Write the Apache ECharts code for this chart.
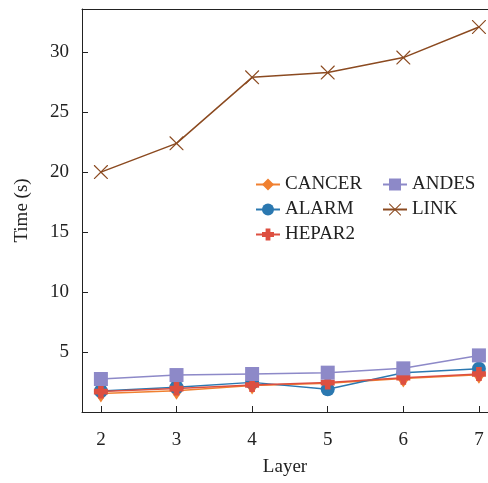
<!DOCTYPE html>
<html><head><meta charset="utf-8">
<script src="https://cdn.jsdelivr.net/npm/echarts@6/dist/echarts.min.js"></script>
<style>html,body{margin:0;padding:0;background:#fff}#c{width:488px;height:483px}</style>
</head><body><div id="c"></div>
<script>
const layers = [2, 3, 4, 5, 6, 7];
const cancer = [1.55, 1.78, 2.2, 2.4, 2.8, 3.1];
const alarm  = [1.75, 2.06, 2.47, 1.89, 3.28, 3.6];
const hepar2 = [1.7, 1.95, 2.25, 2.45, 2.86, 3.17];
const andes  = [2.75, 3.08, 3.17, 3.28, 3.64, 4.72];
const link   = [20.0, 22.4, 27.9, 28.3, 29.55, 32.1];
const yTicks = [5, 10, 15, 20, 25, 30];

const FONT = '"Liberation Serif", "Times New Roman", serif';
const FS = 19;
const pair = arr => layers.map((x, i) => [x, arr[i]]);
const plusPath = 'path://M3,0h4v3h3v4h-3v3h-4v-3h-3v-4h3z';
const xPath = 'path://M0,0L1.2,0L10,8.8L18.8,0L20,0L20,1.2L11.2,10L20,18.8L20,20L18.8,20L10,11.2L1.2,20L0,20L0,18.8L8.8,10L0,1.2Z';

function mk(name, data, color, symbol, size) {
  return {
    name, type: 'line', data: pair(data), symbol, symbolSize: size,
    itemStyle: { color }, lineStyle: { color, width: 1.5 },
    emphasis: { disabled: true }, animation: false
  };
}
const legendText = { fontFamily: FONT, fontSize: FS, color: '#222' };

const chart = echarts.init(document.getElementById('c'), null, { renderer: 'canvas' });
chart.setOption({
  backgroundColor: '#fff',
  animation: false,
  grid: { left: 82, top: 9, right: 0, bottom: 71, show: false },
  legend: [
    { data: ['CANCER', 'ALARM', 'HEPAR2'], orient: 'vertical', left: 250, top: 170, itemGap: 6, itemWidth: 24, itemHeight: 15,
      textStyle: legendText },
    { data: ['ANDES', 'LINK'], orient: 'vertical', left: 377, top: 170, itemGap: 6, itemWidth: 24, itemHeight: 15,
      textStyle: legendText }
  ],
  xAxis: [{
    type: 'value', min: 1.75, max: 7.12,
    name: 'Layer', nameLocation: 'middle', nameGap: 46,
    nameTextStyle: { fontFamily: FONT, fontSize: FS, color: '#222' },
    axisLine: { lineStyle: { color: '#222', width: 1 } },
    axisTick: { inside: true, length: 6, customValues: layers, lineStyle: { color: '#222' } },
    axisLabel: { customValues: layers, margin: 19, fontFamily: FONT, fontSize: FS, color: '#222' },
    splitLine: { show: false }
  }, {
    type: 'value', position: 'top', min: 1.75, max: 7.12,
    axisLine: { show: true, onZero: false, lineStyle: { color: '#222', width: 1 } },
    axisTick: { show: false }, axisLabel: { show: false }, splitLine: { show: false }
  }],
  yAxis: {
    type: 'value', min: 0, max: 33.6,
    name: 'Time (s)', nameLocation: 'middle', nameGap: 50, nameRotate: 90,
    nameTextStyle: { fontFamily: FONT, fontSize: FS, color: '#222' },
    axisLine: { show: true, lineStyle: { color: '#222', width: 1 } },
    axisTick: { show: true, inside: true, length: 6, customValues: yTicks, lineStyle: { color: '#222' } },
    axisLabel: { customValues: yTicks, margin: 13, fontFamily: FONT, fontSize: FS, color: '#222' },
    splitLine: { show: false }
  },
  series: [
    mk('CANCER', cancer, '#F08030', 'diamond', [12, 18]),
    mk('ALARM', alarm, '#2B78B0', 'circle', 14),
    mk('HEPAR2', hepar2, '#DD4F40', plusPath, 14),
    mk('ANDES', andes, '#8D89C8', 'rect', 14),
    mk('LINK', link, '#8B4A20', xPath, 14)
  ]
});
</script></body></html>
